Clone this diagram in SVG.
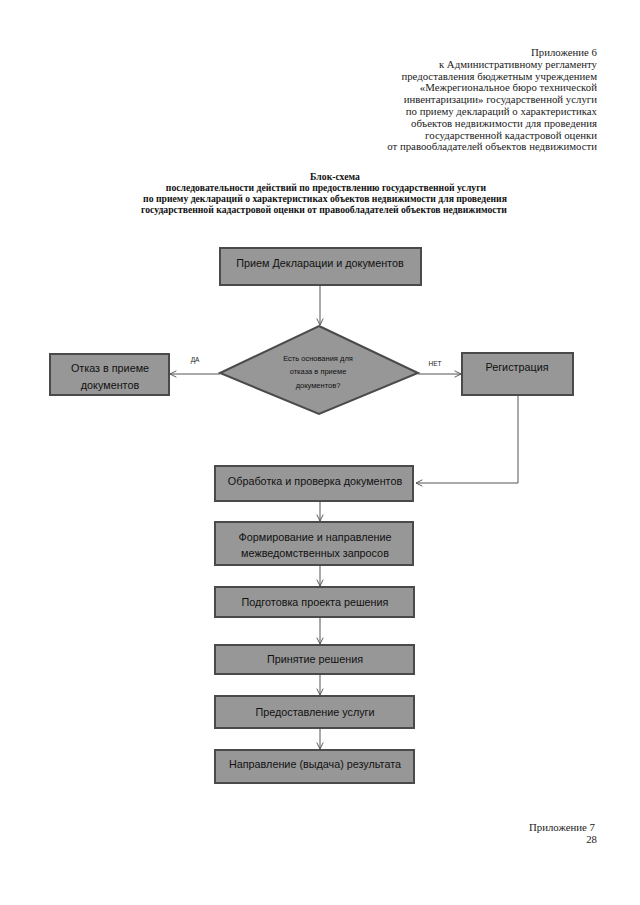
<svg xmlns="http://www.w3.org/2000/svg" width="640" height="905" viewBox="0 0 640 905">
<defs>
<style>
.hdr{font-family:"Liberation Serif","Times New Roman",serif;font-size:10.8px;fill:#222}
.ttl{font-family:"Liberation Serif","Times New Roman",serif;font-size:9.7px;font-weight:bold;fill:#111}
.box{fill:#979797;stroke:#4a4a4a;stroke-width:2}
.lbl{font-family:"Liberation Sans",Arial,sans-serif;font-size:10.8px;fill:#111;text-anchor:middle}
.dlbl{font-family:"Liberation Sans",Arial,sans-serif;font-size:7.5px;fill:#111;text-anchor:middle}
.yn{font-family:"Liberation Sans",Arial,sans-serif;font-size:6.5px;fill:#222;text-anchor:middle}
.con{fill:none;stroke:#555;stroke-width:1}
</style>
<marker id="arr" viewBox="0 0 10 10" refX="9" refY="5" markerWidth="8" markerHeight="8" markerUnits="userSpaceOnUse" orient="auto">
<path d="M1,1 L9,5 L1,9" fill="none" stroke="#555" stroke-width="1.2"/>
</marker>
</defs>
<rect width="640" height="905" fill="#fff"/>
<g id="header" text-anchor="end">
<text class="hdr" x="597" y="56">Приложение 6</text>
<text class="hdr" x="597" y="67.8">к Административному регламенту</text>
<text class="hdr" x="597" y="79.6">предоставления бюджетным учреждением</text>
<text class="hdr" x="597" y="91.4">«Межрегиональное бюро технической</text>
<text class="hdr" x="597" y="103.2">инвентаризации» государственной услуги</text>
<text class="hdr" x="597" y="115">по приему деклараций о характеристиках</text>
<text class="hdr" x="597" y="126.8">объектов недвижимости для проведения</text>
<text class="hdr" x="597" y="138.6">государственной кадастровой оценки</text>
<text class="hdr" x="597" y="150.4">от правообладателей объектов недвижимости</text>
</g>
<g id="title" text-anchor="middle">
<text class="ttl" x="335" y="180">Блок-схема</text>
<text class="ttl" x="326" y="191">последовательности действий по предоствлению государственной услуги</text>
<text class="ttl" x="325" y="202">по приему деклараций о характеристиках объектов недвижимости для проведения</text>
<text class="ttl" x="324" y="213">государственной кадастровой оценки от правообладателей объектов недвижимости</text>
</g>
<g id="connectors">
<line class="con" x1="320" y1="286" x2="320" y2="325" marker-end="url(#arr)"/>
<line class="con" x1="220" y1="374" x2="170" y2="374" marker-end="url(#arr)"/>
<line class="con" x1="418" y1="374" x2="461" y2="374" marker-end="url(#arr)"/>
<polyline class="con" points="518,396 518,483 416,483" marker-end="url(#arr)"/>
<line class="con" x1="320" y1="501" x2="320" y2="521" marker-end="url(#arr)"/>
<line class="con" x1="320" y1="565" x2="320" y2="586" marker-end="url(#arr)"/>
<line class="con" x1="320" y1="617" x2="320" y2="644" marker-end="url(#arr)"/>
<line class="con" x1="320" y1="674" x2="320" y2="695" marker-end="url(#arr)"/>
<line class="con" x1="320" y1="728" x2="320" y2="749" marker-end="url(#arr)"/>
<text class="yn" x="195" y="362">ДА</text>
<text class="yn" x="435" y="366">НЕТ</text>
</g>
<g id="n1">
<rect class="box" x="220" y="248" width="201" height="37"/>
<text class="lbl" x="320" y="267">Прием Декларации и документов</text>
</g>
<g id="n2">
<polygon class="box" points="319,326 418,373 319,414 220,373"/>
<text class="dlbl" x="318" y="361">Есть основания для</text>
<text class="dlbl" x="318" y="374">отказа в приеме</text>
<text class="dlbl" x="318" y="388">документов?</text>
</g>
<g id="n3">
<rect class="box" x="50" y="354" width="119" height="41"/>
<text class="lbl" x="110" y="372">Отказ в приеме</text>
<text class="lbl" x="110" y="389">документов</text>
</g>
<g id="n4">
<rect class="box" x="462" y="353" width="111" height="42"/>
<text class="lbl" x="517" y="371">Регистрация</text>
</g>
<g id="n5">
<rect class="box" x="215" y="466" width="198" height="35"/>
<text class="lbl" x="315" y="485">Обработка и проверка документов</text>
</g>
<g id="n6">
<rect class="box" x="215" y="522" width="198" height="43"/>
<text class="lbl" x="315" y="541">Формирование и направление</text>
<text class="lbl" x="315" y="557">межведомственных запросов</text>
</g>
<g id="n7">
<rect class="box" x="215" y="587" width="199" height="30"/>
<text class="lbl" x="315" y="606">Подготовка проекта решения</text>
</g>
<g id="n8">
<rect class="box" x="215" y="645" width="199" height="29"/>
<text class="lbl" x="315" y="663">Принятие решения</text>
</g>
<g id="n9">
<rect class="box" x="215" y="696" width="199" height="32"/>
<text class="lbl" x="315" y="716">Предоставление услуги</text>
</g>
<g id="n10">
<rect class="box" x="215" y="750" width="199" height="33"/>
<text class="lbl" x="315" y="768">Направление (выдача) результата</text>
</g>
<g id="footer" text-anchor="end">
<text class="hdr" x="595" y="831">Приложение 7</text>
<text class="hdr" x="597" y="843">28</text>
</g>
</svg>
